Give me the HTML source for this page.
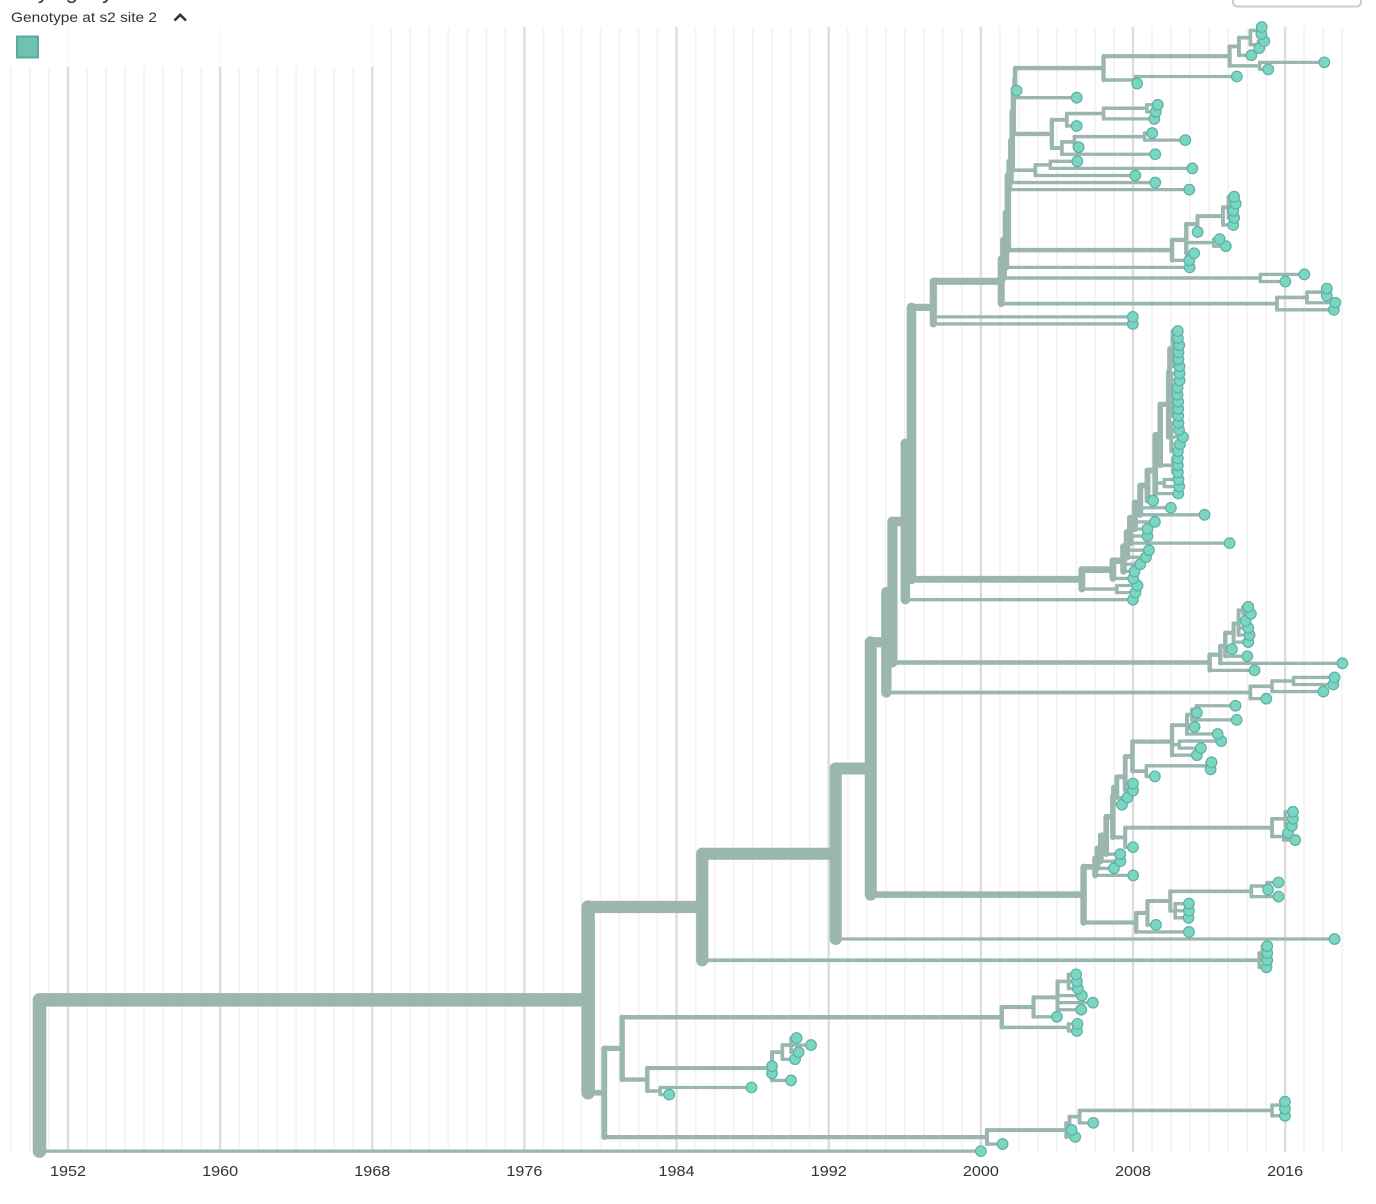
<!DOCTYPE html>
<html lang="en">
<head>
<meta charset="utf-8">
<title>Phylogeny</title>
<style>
html,body{margin:0;padding:0;background:#fff;width:1376px;height:1204px;overflow:hidden}
svg{display:block}
text{font-family:"Liberation Sans",sans-serif;fill:#333}
</style>
</head>
<body>
<svg id="chart" xmlns="http://www.w3.org/2000/svg" width="1376" height="1204" viewBox="0 0 1376 1204">
  <g id="grid"></g>
  <rect x="0" y="27" width="375" height="40" fill="#fff" fill-opacity="0.85"></rect>
  <g id="branches"></g>
  <g id="tips"></g>
  <g id="axis"></g>
  <text x="11" y="-1" font-size="20" textLength="102" lengthAdjust="spacingAndGlyphs">Phylogeny</text>
  <text x="11" y="22" font-size="14" textLength="146" lengthAdjust="spacingAndGlyphs">Genotype at s2 site 2</text>
  <path d="M174.5 20.5 L180.2 14.8 L186 20.5" fill="none" stroke="#333" stroke-width="2.6"></path>
  <rect x="17" y="36.5" width="21" height="21" fill="#70c2b0" stroke="#5bab9b" stroke-width="2"></rect>
  <rect x="1233" y="-12" width="128" height="18.5" rx="4" fill="#fff" stroke="#ccc" stroke-width="2"></rect>
</svg>
<script>
// Tree in top-to-bottom preorder: depth of each node and its date (decimal year).
const nodeDepths = [
0,1,2,3,4,5,6,7,8,9,10,11,12,13,14,15,16,17,18,19,20,
21,22,23,24,25,25,24,25,25,23,22,23,23,21,22,22,
20,19,18,19,20,21,22,22,21,20,19,20,21,22,22,21,20,
17,18,19,19,18,16,15,
14,15,16,17,18,19,19,19,19,18,17,16,17,17,16,15,
13,12,13,13,11,12,13,14,14,13,12,10,10,
9,10,11,12,13,14,15,16,17,18,19,20,21,
22,22,22,22,22,22,
21,22,22,22,22,22,22,22,
20,21,21,21,21,21,
19,20,20,20,
18,19,19,18,17,16,16,15,15,14,14,13,13,12,12,11,
10,11,11,8,
7,8,9,10,11,12,13,13,12,12,12,11,10,10,9,8,
6,7,8,9,9,8,7,
5,6,7,8,9,10,11,12,13,14,15,16,17,18,19,19,18,17,17,16,17,17,16,
15,16,17,17,16,14,14,13,12,
11,12,13,14,14,14,13,14,14,12,10,9,8,7,
6,7,8,9,10,11,11,10,9,10,10,10,8,7,
4,3,4,5,5,5,4,
2,3,4,5,6,7,8,8,8,7,7,7,6,5,6,6,
4,5,6,7,8,8,8,7,6,6,6,5,6,6,
3,4,5,6,7,8,9,9,8,7,6,5,4,
1
];
const nodeDates = [
1950.50,1979.35,1985.35,1992.37,1994.21,1995.03,1995.35,1996.03,1996.35,1997.50,2001.07,2001.19,2001.32,2001.42,2001.49,2001.58,2001.65,2001.71,2001.77,2001.80,2006.45,
2013.08,2013.57,2014.17,2014.57,2014.77,2014.75,2014.59,2014.90,2014.64,2014.22,2014.66,2018.06,2015.11,2008.13,2013.46,2008.22,
2001.88,2005.04,2003.73,2004.52,2006.45,2008.73,2009.30,2009.20,2009.12,2005.04,2004.26,2004.92,2008.61,2009.01,2010.75,2005.14,2009.17,
2002.86,2003.65,2005.07,2011.12,2008.12,2009.17,2010.96,
2010.05,2010.80,2011.39,2012.73,2013.02,2013.32,2013.40,2013.27,2013.32,2013.27,2011.40,2012.24,2012.56,2012.88,2011.22,2010.96,
2010.98,2014.69,2017.01,2016.01,2015.57,2017.15,2018.11,2018.19,2018.19,2018.64,2018.56,2007.99,2007.99,
2005.31,2006.94,2007.50,2007.68,2007.85,2008.10,2008.38,2008.76,2009.17,2009.43,2009.87,2009.92,2010.08,
2010.36,2010.36,2010.43,2010.39,2010.39,2010.45,
2010.01,2010.45,2010.45,2010.34,2010.34,2010.38,2010.38,2010.38,
2010.01,2010.39,2010.42,2010.63,2010.47,2010.36,
2010.10,2010.36,2010.36,2010.36,
2009.64,2010.39,2010.43,2010.38,2009.06,2009.99,2011.76,2009.15,2008.76,2008.76,2013.08,2008.84,2008.68,2008.38,2008.08,2008.01,
2007.15,2008.24,2008.13,2008.00,
2012.03,2012.59,2012.85,2013.29,2013.55,2013.78,2014.06,2014.20,2013.92,2014.06,2014.13,2014.06,2013.20,2014.01,2019.01,2014.39,
2014.17,2015.31,2016.44,2018.60,2018.53,2018.01,2015.01,
2005.40,2006.01,2006.13,2006.31,2006.59,2006.94,2006.98,2007.15,2007.59,2007.97,2010.05,2010.84,2011.10,2011.33,2013.39,2011.36,2013.45,2011.24,2012.45,2010.43,2012.64,2011.57,2011.36,
2008.70,2011.89,2012.13,2012.08,2009.15,2008.00,2008.00,2007.71,2007.42,
2007.59,2015.31,2016.01,2016.41,2016.41,2016.36,2015.92,2016.15,2016.53,2008.00,2007.33,2007.34,2007.00,2008.01,
2008.17,2008.76,2009.96,2014.22,2015.04,2015.65,2015.10,2015.65,2010.22,2010.94,2010.94,2010.92,2009.21,2010.94,
2018.60,2014.64,2014.80,2015.06,2015.06,2015.06,2015.02,
1980.20,1981.14,2001.10,2002.77,2004.03,2004.61,2005.01,2005.05,2005.10,2005.31,2005.89,2005.28,2004.00,2004.61,2005.08,2005.05,
1982.46,1989.02,1989.56,1990.02,1990.31,1991.07,1990.42,1990.23,1989.02,1989.02,1990.02,1983.14,1987.94,1983.61,
2000.32,2004.49,2004.66,2005.19,2015.31,2015.90,2015.99,2015.99,2015.99,2005.91,2004.77,2004.96,2001.14,
2000.00
];
const tickYears = [1952,1960,1968,1976,1984,1992,2000,2008,2016];
const gridFirstYear = 1949;
const gridLastYear = 2019;

const NS = 'http://www.w3.org/2000/svg';
function xScale(year){ return 68 + (year - 1952) * 19.018; }
function yScale(row){ return 27 + row * 7.07; }
function widthScale(tipCount){ return 3 + 10.5 * Math.pow(tipCount / 160, 0.7); }
function make(tag, attrs, parent){
  const el = document.createElementNS(NS, tag);
  for (const k in attrs) el.setAttribute(k, attrs[k]);
  parent.appendChild(el);
  return el;
}

// grid + axis
const gridG = document.getElementById('grid');
const axisG = document.getElementById('axis');
for (let yr = gridFirstYear; yr <= gridLastYear; yr++) {
  const major = tickYears.indexOf(yr) >= 0;
  const line = make('line', {x1:xScale(yr), x2:xScale(yr), y1:27, y2:1152,
    stroke: major ? '#dcdcdc' : '#f3f3f3', 'stroke-width': major ? 2.4 : 1.8}, gridG);
  
  
}
tickYears.forEach(function(yr){
  const t = make('text', {x:xScale(yr), y:1176, 'text-anchor':'middle', 'font-size':15,
    textLength:36, lengthAdjust:'spacingAndGlyphs'}, axisG);
  t.textContent = String(yr);
  
  
});

// build tree from preorder depths
const count = nodeDepths.length;
const parents = new Array(count).fill(-1);
const kids = nodeDepths.map(function(){ return []; });
const lastAtDepth = [];
for (let i = 0; i < count; i++) {
  const d = nodeDepths[i];
  lastAtDepth[d] = i;
  if (d > 0) { parents[i] = lastAtDepth[d - 1]; kids[parents[i]].push(i); }
}
const ys = new Array(count).fill(0);
const tipCounts = new Array(count).fill(0);
let row = 0;
for (let i = 0; i < count; i++) {
  if (kids[i].length === 0) { ys[i] = yScale(row); tipCounts[i] = 1; row++; }
}
for (let i = count - 1; i >= 0; i--) {
  if (kids[i].length) {
    let sum = 0, n = 0;
    kids[i].forEach(function(c){ sum += ys[c]; n += tipCounts[c]; });
    ys[i] = sum / kids[i].length;
    tipCounts[i] = n;
  }
}

// branches
const branchG = document.getElementById('branches');
for (let i = 0; i < count; i++) {
  const x = xScale(nodeDates[i]);
  let d = '';
  if (parents[i] >= 0) d += 'M' + xScale(nodeDates[parents[i]]) + ' ' + ys[i] + 'L' + x + ' ' + ys[i];
  if (kids[i].length) {
    const first = ys[kids[i][0]];
    const last = ys[kids[i][kids[i].length - 1]];
    d += 'M' + x + ' ' + first + 'L' + x + ' ' + last;
  }
  const p = make('path', {d:d, fill:'none', stroke:'#9ab6ae', 'stroke-width':widthScale(tipCounts[i]),
    'stroke-linecap':'round'}, branchG);
  
  
}

// tips, upper rows painted last
const tipG = document.getElementById('tips');
for (let i = count - 1; i >= 0; i--) {
  if (kids[i].length === 0) {
    const c = make('circle', {cx:xScale(nodeDates[i]), cy:ys[i], r:5.3,
      fill:'#7ad5c3', stroke:'#5fb0a0', 'stroke-width':1.2}, tipG);
    
    
  }
}
</script>
</body>
</html>
